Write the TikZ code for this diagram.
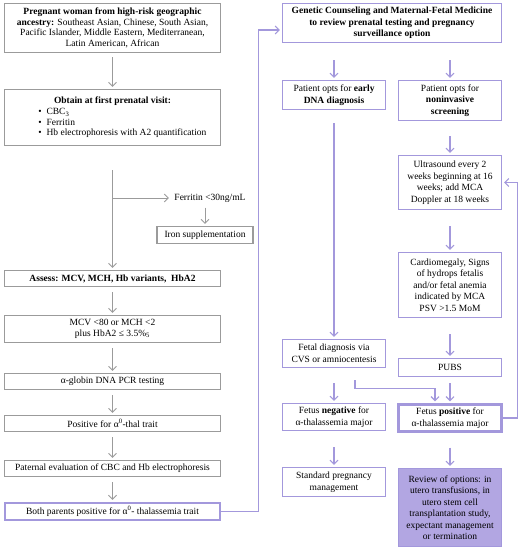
\documentclass[tikz,border=0pt]{standalone}
\usepackage{fontspec}
\setmainfont{Liberation Serif}
\usetikzlibrary{positioning,calc}
\usetikzlibrary{arrows.meta}
\definecolor{FlowGray}{RGB}{155,155,155}
\definecolor{Lavender}{RGB}{163,152,220}
\definecolor{LavenderFill}{RGB}{178,166,226}
\tikzset{
  gbox/.style={draw=FlowGray,line width=1.1pt,fill=white,align=center,inner sep=2pt,
    font=\fontsize{9.5}{10.5}\selectfont},
  pbox/.style={draw=Lavender,line width=1.1pt,fill=white,align=center,inner sep=2pt,
    minimum width=103,font=\fontsize{9.5}{11.5}\selectfont},
  pkey/.style={pbox,line width=2.4pt},
  pfill/.style={pbox,fill=LavenderFill},
  garrow/.style={draw=FlowGray,line width=0.9pt,-{Straight Barb[length=4pt,width=8pt]},shorten >=2pt},
  parrow/.style={draw=Lavender,line width=1.1pt,-{Straight Barb[length=4pt,width=8pt]},shorten >=2pt},
}

\begin{document}
\begin{tikzpicture}[x=1pt,y=-1pt]
\fill[white] (0,0) rectangle (520,549);
\useasboundingbox (0,0) rectangle (520,549);
% left column
\node[gbox,minimum width=216,minimum height=49] (woman) at (112.5,28)
  {\textbf{Pregnant woman from high-risk geographic}\\
   \textbf{ancestry:} Southeast Asian, Chinese, South Asian,\\
   Pacific Islander, Middle Eastern, Mediterranean,\\
   Latin American, African};
\node[gbox,minimum width=216,minimum height=56] (visit) at (112.5,117.5)
  {\textbf{Obtain at first prenatal visit:}\\[2pt]
   \hspace*{28pt}\parbox{176pt}{\textbullet\enspace CBC\textsubscript{3}\\
     \textbullet\enspace Ferritin\\
     \textbullet\enspace Hb electrophoresis with A2 quantification}};
\coordinate (split) at (112.5,198);
\node[font=\fontsize{9.5}{10.5}\selectfont] (ferritin) at (210,198) {Ferritin <30ng/mL};
\node[gbox,minimum width=96,minimum height=17] (iron) at (205,235) {Iron supplementation};
\node[gbox,minimum width=216,minimum height=16] (assess) at (112.5,278.5)
  {\textbf{Assess: MCV, MCH, Hb variants, \ HbA2}};
\node[gbox,minimum width=216,minimum height=27] (mcv) at (112.5,329)
  {MCV <80 or MCH <2\\ plus HbA2 ≤ 3.5\%\textsubscript{5}};
\node[gbox,minimum width=216,minimum height=16] (pcr) at (112.5,381.5)
  {α-globin DNA PCR testing};
\node[gbox,minimum width=216,minimum height=16] (trait) at (112.5,423.5)
  {Positive for α\textsuperscript{0}-thal trait};
\node[gbox,minimum width=216,minimum height=16] (paternal) at (112.5,468.5)
  {Paternal evaluation of CBC and Hb electrophoresis};
\node[pkey,minimum width=215,minimum height=17,font=\fontsize{9.5}{10.5}\selectfont] (both) at (112.5,511.5)
  {Both parents positive for α\textsuperscript{0}- thalassemia trait};
% right column
\node[pbox,minimum width=219,minimum height=39] (counsel) at (392,23)
  {\textbf{Genetic Counseling and Maternal-Fetal Medicine}\\
   \textbf{to review prenatal testing and pregnancy}\\
   \textbf{surveillance option}};
\node[pbox,minimum height=29] (early) at (334,95)
  {Patient opts for \textbf{early}\\ \textbf{DNA diagnosis}};
\node[pbox,minimum height=40] (noninv) at (450,100.5)
  {Patient opts for\\ \textbf{noninvasive}\\ \textbf{screening}};
\node[pbox,minimum height=54] (ultra) at (450,182.5)
  {Ultrasound every 2\\ weeks beginning at 16\\ weeks; add MCA\\ Doppler at 18 weeks};
\node[pbox,minimum height=65] (cardio) at (450,285)
  {Cardiomegaly, Signs\\ of hydrops fetalis\\ and/or fetal anemia\\ indicated by MCA\\ PSV >1.5 MoM};
\node[pbox,minimum height=18] (pubs) at (450,367.5) {PUBS};
\node[pbox,minimum height=28] (fetal) at (334,353.5)
  {Fetal diagnosis via\\ CVS or amniocentesis};
\node[pbox,minimum height=27] (neg) at (334,417)
  {Fetus \textbf{negative} for\\ α-thalassemia major};
\node[pkey,minimum height=27] (pos) at (450,418)
  {Fetus \textbf{positive} for\\ α-thalassemia major};
\node[pbox,minimum height=29] (standard) at (334,482)
  {Standard pregnancy\\ management};
\node[pfill,minimum height=78] (review) at (450,507.5)
  {Review of options: in\\ utero transfusions, in\\ utero stem cell\\ transplantation study,\\
   expectant management\\ or termination};
% gray arrows
\draw[garrow,shorten <=4pt] (woman) -- (visit);
\draw[garrow,shorten <=24pt] (visit) -- (assess);
\draw[garrow] (split) -- (ferritin.west);
\draw[garrow,shorten <=2pt] (iron.north |- ferritin.south) -- (iron.north);
\draw[garrow,shorten <=5pt] (assess) -- (mcv);
\draw[garrow,shorten <=5pt] (mcv) -- (pcr);
\draw[garrow,shorten <=5pt] (pcr) -- (trait);
\draw[garrow,shorten <=5pt] (trait) -- (paternal);
\draw[garrow,shorten <=5pt] (paternal) -- (both);
% purple arrows
\draw[parrow] (both.east) -- ++(37,0) |- ([yshift=-7pt]counsel.west);
\draw[parrow,shorten <=17pt] (early.north |- counsel.south) -- (early.north);
\draw[parrow,shorten <=17pt] (noninv.north |- counsel.south) -- (noninv.north);
\draw[parrow,shorten <=13pt] (early) -- (fetal);
\draw[parrow,shorten <=15pt] (noninv) -- (ultra);
\draw[parrow,shorten <=16pt] (ultra) -- (cardio);
\draw[parrow,shorten <=16pt] (cardio) -- (pubs);
\draw[parrow,shorten <=15pt] (fetal) -- (neg);
\draw[parrow,shorten <=6pt] (pubs) -- (pos);
\draw[parrow] ([xshift=21pt]fetal.south) ++(0,12) -- ++(0,8) -| ([xshift=-15pt]pos.north);
\draw[parrow,shorten <=16pt] (neg) -- (standard);
\draw[parrow,shorten <=15pt] (pos) -- (review);
\draw[parrow] (pos.east) -- ++(15,0) |- (ultra.east);
\end{tikzpicture}
\end{document}
